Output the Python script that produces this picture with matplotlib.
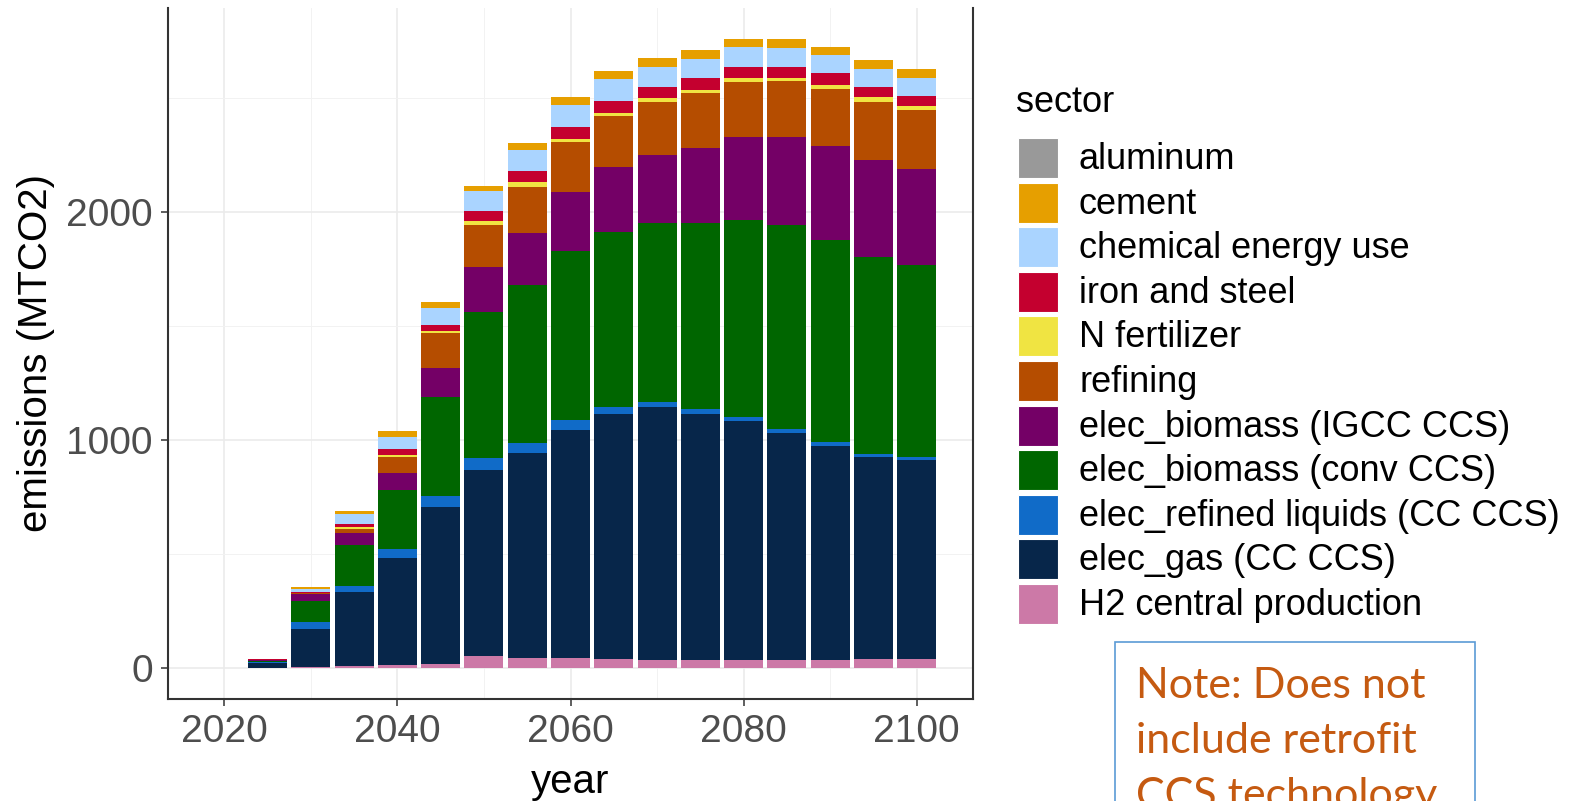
import matplotlib
matplotlib.use("Agg")
import matplotlib.pyplot as plt
from matplotlib.patches import Rectangle
import numpy as np

years = [2020, 2025, 2030, 2035, 2040, 2045, 2050, 2055, 2060, 2065, 2070,
         2075, 2080, 2085, 2090, 2095, 2100]

sectors = ["aluminum", "cement", "chemical energy use", "iron and steel",
           "N fertilizer", "refining", "elec_biomass (IGCC CCS)",
           "elec_biomass (conv CCS)", "elec_refined liquids (CC CCS)",
           "elec_gas (CC CCS)", "H2 central production"]

colors = ["#999999", "#E69F00", "#AAD4FF", "#C4002F", "#F0E442", "#B54D00",
          "#740066", "#006600", "#106BC8", "#07264A", "#CC79A7"]

aluminum = [0] * 17
cement = [0, 1, 9, 15, 27, 23, 23, 31, 33, 33, 37, 37, 33, 37, 37, 37, 37]
chemical = [0, 1, 12, 45, 53, 74, 86, 92, 98, 96, 91, 86, 86, 82, 78, 82, 82]
iron_steel = [0, 1, 4, 10, 25, 27, 45, 46, 52, 52, 49, 51, 48, 48, 51, 44, 45]
n_fertilizer = [0, 3, 3, 10, 10, 12, 17, 22, 16, 16, 16, 14, 20, 16, 17, 21, 14]
refining = [0, 1, 3, 17, 70, 150, 184, 203, 218, 224, 233, 239, 242, 246, 250, 255, 259]
bio_igcc = [0, 1, 29, 55, 74, 131, 199, 226, 259, 283, 299, 332, 362, 387, 413, 423, 423]
bio_conv = [0, 4, 94, 179, 260, 431, 639, 696, 739, 770, 783, 816, 866, 895, 887, 865, 842]
refined_liq = [0, 6, 28, 26, 39, 50, 55, 42, 47, 31, 22, 22, 15, 14, 19, 16, 14]
elec_gas = [0, 20, 167, 326, 469, 688, 814, 899, 998, 1072, 1113, 1080, 1053, 1000, 940, 883, 871]
h2_central = [0, 0, 4, 5, 12, 16, 51, 43, 43, 39, 31, 31, 31, 31, 31, 39, 39]

series = [aluminum, cement, chemical, iron_steel, n_fertilizer, refining,
          bio_igcc, bio_conv, refined_liq, elec_gas, h2_central]

W, H = 1573, 801
fig = plt.figure(figsize=(W / 100, H / 100), dpi=100)
fig.patch.set_facecolor("white")

def fx(px):
    return px / W

def fy(py):
    return 1 - py / H

ax = fig.add_axes([fx(168), fy(699), fx(973) - fx(168), fy(8) - fy(699)])

x = np.array(years, dtype=float)
bottom = np.zeros(len(years))
# stack from bottom (last level) to top (first level), as ggplot does
for name, col, vals in reversed(list(zip(sectors, colors, series))):
    v = np.array(vals, dtype=float)
    ax.bar(x, v, width=4.5, bottom=bottom, color=col, linewidth=0, label=name)
    bottom += v

ax.set_xlim(2013.5, 2106.5)
ax.set_ylim(-138, 2894)
ax.set_xticks([2020, 2040, 2060, 2080, 2100])
ax.set_xticks([2030, 2050, 2070, 2090], minor=True)
ax.set_yticks([0, 1000, 2000])
ax.set_yticks([500, 1500, 2500], minor=True)
ax.grid(which="major", color="#EBEBEB", linewidth=1.2)
ax.grid(which="minor", color="#F2F2F2", linewidth=0.7)
ax.set_axisbelow(True)

for s in ["left", "bottom", "right"]:
    ax.spines[s].set_color("#333333")
    ax.spines[s].set_linewidth(1.5)
ax.spines["top"].set_visible(False)

ax.tick_params(axis="both", which="major", colors="#333333", length=5, width=1.1,
               labelcolor="#4D4D4D", labelsize=28)
ax.tick_params(axis="y", pad=6)
ax.tick_params(axis="x", pad=6)
ax.tick_params(which="minor", length=0)
for lab in ax.get_xticklabels() + ax.get_yticklabels():
    lab.set_fontfamily("Liberation Sans")

ax.set_xlabel("year", fontsize=29, fontfamily="Liberation Sans", color="black", labelpad=9)
ax.set_ylabel("emissions (MTCO2)", fontsize=29, fontfamily="Liberation Sans",
              color="black", labelpad=8)

# legend drawn manually
fig.text(fx(1016), fy(102), "sector", fontsize=26, fontfamily="Liberation Sans",
         color="black", ha="left", va="center")
for i, (name, col) in enumerate(zip(sectors, colors)):
    cy = 158 + i * 44.6
    fig.patches.append(Rectangle((fx(1018), fy(cy + 20)), fx(40), 40 / H,
                                 transform=fig.transFigure, facecolor=col,
                                 edgecolor="white", linewidth=0.8))
    fig.text(fx(1079), fy(cy + 1.5), name, fontsize=26, fontfamily="Liberation Sans",
             color="black", ha="left", va="center")

# note box
fig.patches.append(Rectangle((fx(1115), fy(850)), fx(1475 - 1115), (850 - 642) / H,
                             transform=fig.transFigure, facecolor="white",
                             edgecolor="#5B9BD5", linewidth=1.2))
note_lines = ["Note: Does not", "include retrofit", "CCS technology"]
for j, line in enumerate(note_lines):
    fig.text(fx(1136), fy(686 + j * 55), line, fontsize=31, fontfamily="Lato",
             color="#C55A11", ha="left", va="center")

fig.savefig("out.png", dpi=100)
